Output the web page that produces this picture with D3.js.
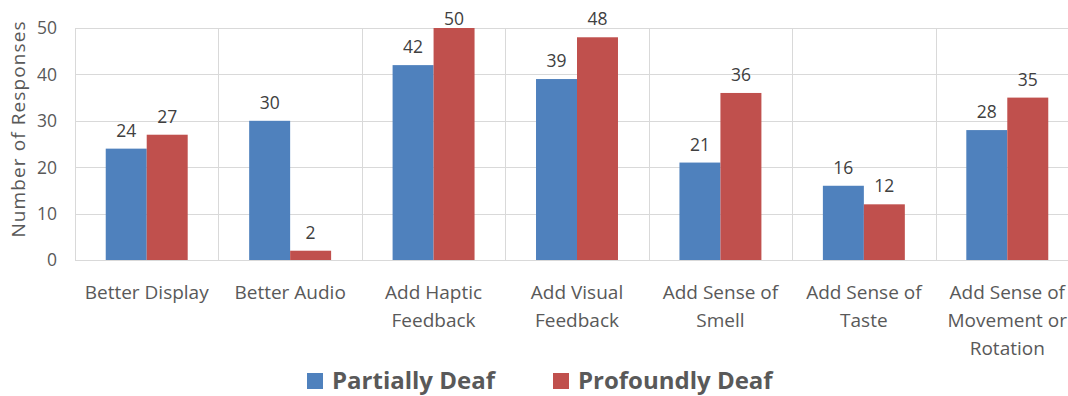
<!DOCTYPE html>
<html>
<head>
<meta charset="utf-8">
<script src="https://cdn.jsdelivr.net/npm/d3@7"></script>
<style>
  html, body { margin: 0; padding: 0; background: #fff; }
  svg { display: block; font-family: "Open Sans", "Noto Sans", sans-serif; }
</style>
</head>
<body>
<svg id="chart" width="1068" height="396"></svg>
<script>
// Requested improvements, split by hearing level
const categories = [
  ["Better Display"],
  ["Better Audio"],
  ["Add Haptic", "Feedback"],
  ["Add Visual", "Feedback"],
  ["Add Sense of", "Smell"],
  ["Add Sense of", "Taste"],
  ["Add Sense of", "Movement or", "Rotation"]
];
const seriesNames = ["Partially Deaf", "Profoundly Deaf"];
const partiallyDeaf = [24, 30, 42, 39, 21, 16, 28];
const profoundlyDeaf = [27, 2, 50, 48, 36, 12, 35];
const yTicks = [0, 10, 20, 30, 40, 50];
const colors = ["#4f81bd", "#c0504d"];

const svg = d3.select("#chart");
const plot = { left: 75, right: 1079, top: 28, bottom: 260 };

const x = d3.scaleBand()
  .domain(d3.range(categories.length))
  .range([plot.left, plot.right])
  .paddingInner(0).paddingOuter(0);

const inner = d3.scaleBand()
  .domain([0, 1])
  .range([0, x.bandwidth()])
  .paddingOuter(0.75).paddingInner(0);

const y = d3.scaleLinear().domain([0, 50]).range([plot.bottom, plot.top]);

// horizontal gridlines
svg.append("g").selectAll("line").data(yTicks).join("line")
  .attr("x1", plot.left).attr("x2", plot.right)
  .attr("y1", d => Math.round(y(d)) + 0.5).attr("y2", d => Math.round(y(d)) + 0.5)
  .attr("stroke", "#d9d9d9").attr("stroke-width", 1);

// vertical category dividers
svg.append("g").selectAll("line").data(d3.range(categories.length + 1)).join("line")
  .attr("x1", i => Math.round(i < categories.length ? x(i) : plot.right) + 0.5)
  .attr("x2", i => Math.round(i < categories.length ? x(i) : plot.right) + 0.5)
  .attr("y1", plot.top).attr("y2", plot.bottom)
  .attr("stroke", "#d9d9d9").attr("stroke-width", 1);

// y tick labels
svg.append("g").selectAll("text").data(yTicks).join("text")
  .attr("x", 57).attr("y", d => y(d))
  .attr("dy", "0.36em").attr("text-anchor", "end")
  .attr("font-size", 17.5).attr("fill", "#595959")
  .text(d => d);

// y axis title
svg.append("text")
  .attr("transform", `translate(25,${(plot.top + plot.bottom) / 2 - 15}) rotate(-90)`)
  .attr("text-anchor", "middle")
  .attr("font-size", 19).attr("letter-spacing", 1.1).attr("fill", "#595959")
  .text("Number of Responses");

// bars with value labels (labels kept inside the top edge)
const series = [partiallyDeaf, profoundlyDeaf];
series.forEach((vals, s) => {
  const g = svg.append("g");
  g.selectAll("rect").data(vals).join("rect")
    .attr("x", (d, i) => x(i) + inner(s))
    .attr("y", d => y(d))
    .attr("width", inner.bandwidth())
    .attr("height", d => y(0) - y(d))
    .attr("fill", colors[s]);
  g.selectAll("text").data(vals).join("text")
    .attr("x", (d, i) => x(i) + inner(s) + inner.bandwidth() / 2)
    .attr("y", d => Math.max(y(d) - 12, 25))
    .attr("text-anchor", "middle")
    .attr("font-size", 17.5).attr("fill", "#404040")
    .text(d => d);
});

// category labels
const catG = svg.append("g");
categories.forEach((lines, i) => {
  const t = catG.append("text")
    .attr("text-anchor", "middle")
    .attr("font-size", 19).attr("fill", "#595959");
  lines.forEach((ln, k) => {
    t.append("tspan")
      .attr("x", x(i) + x.bandwidth() / 2)
      .attr("y", 299 + k * 28)
      .text(ln);
  });
});

// legend
const legendItems = [
  { name: seriesNames[0], color: colors[0], x: 307 },
  { name: seriesNames[1], color: colors[1], x: 553 }
];
const lg = svg.append("g");
legendItems.forEach(it => {
  lg.append("rect").attr("x", it.x).attr("y", 373).attr("width", 16).attr("height", 16)
    .attr("fill", it.color);
  lg.append("text").attr("x", it.x + 25).attr("y", 389)
    .attr("font-size", 24).attr("font-weight", "bold").attr("fill", "#595959")
    .text(it.name);
});
</script>
</body>
</html>
